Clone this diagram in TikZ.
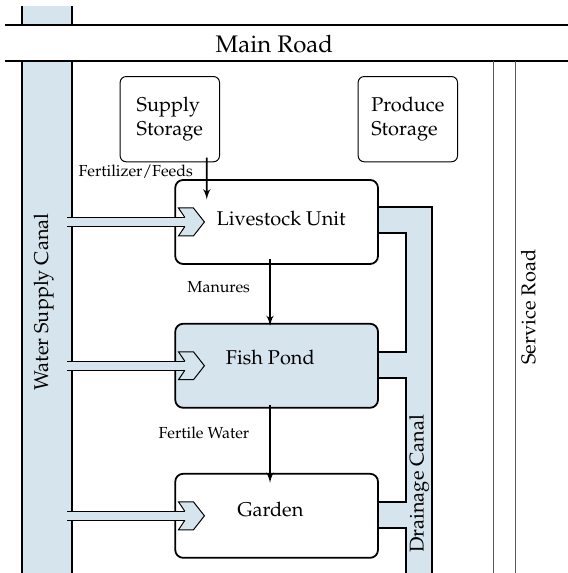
\documentclass[tikz,border=0pt]{standalone}
\usepackage[T1]{fontenc}
\usepackage{mathpazo}
\usepackage{tikz}
\usetikzlibrary{shapes,arrows,positioning,calc}
\definecolor{canalblue}{RGB}{213,228,237}
\tikzstyle{line} = [draw, -latex', line width=0.8pt]
\tikzstyle{water} = [draw, line width=0.5pt, double=canalblue, double distance=4pt, shorten >=9.8pt]
\tikzstyle{unit} = [draw, rectangle, rounded corners=4pt, line width=0.9pt, text centered, minimum width=3.57cm, minimum height=1.48cm]
\tikzstyle{store} = [draw, rectangle, rounded corners=3pt, line width=0.5pt, align=left, minimum width=1.75cm, minimum height=1.5cm]
\tikzstyle{edge} = [draw, line width=0.9pt]
\tikzstyle{lbl} = [font=\footnotesize]
\tikzset{chevron/.pic={
    \fill [canalblue] (-9.8pt,2.25pt) -- (-13pt,7pt) -- (-5.5pt,7pt) -- (0,0) -- (-5.5pt,-7pt) -- (-13pt,-7pt) -- (-9.8pt,-2.25pt) -- cycle;
    \draw [line width=0.5pt, line join=miter] (-9.8pt,2.25pt) -- (-13pt,7pt) -- (-5.5pt,7pt) -- (0,0) -- (-5.5pt,-7pt) -- (-13pt,-7pt) -- (-9.8pt,-2.25pt);
}}

\begin{document}
\begin{tikzpicture}
    \useasboundingbox (0,0) rectangle (10,10.088);
    % water supply canal
    \fill [canalblue] (0.387,0) rectangle (1.268,9.01);
    \fill [canalblue] (0.387,9.65) rectangle (1.268,9.98);
    \path [edge] (0.387,0) -- (0.387,9.01) (1.268,0) -- (1.268,9.01);
    \path [edge] (0.387,9.65) -- (0.387,9.98) (1.268,9.65) -- (1.268,9.98);
    \coordinate (wsc) at (1.18,0);
    \node [rotate=90] (wsclbl) at (0.77,4.77) {Water Supply Canal};

    % roads
    \path [edge] (0.09,9.65) -- (10,9.65) (0.09,9.01) -- (10,9.01);
    \node [font=\large] (mainroad) at (4.83,9.31) {Main Road};
    \path [draw, black!65, line width=0.5pt] (8.68,0) -- (8.68,9.01) (9.08,0) -- (9.08,9.01);
    \node [rotate=90] (servroad) at (9.30,4.68) {Service Road};

    % drainage canal
    \fill [canalblue] (6.655,6.444) -- (7.606,6.444) -- (7.606,0) -- (7.148,0) -- (7.148,0.792) -- (6.655,0.792)
        -- (6.655,1.25) -- (7.148,1.25) -- (7.148,3.433) -- (6.655,3.433) -- (6.655,3.891) -- (7.148,3.891)
        -- (7.148,5.986) -- (6.655,5.986) -- cycle;
    \path [edge] (6.655,6.444) -- (7.606,6.444) -- (7.606,0);
    \path [edge] (6.655,5.986) -- (7.148,5.986) -- (7.148,3.891) -- (6.655,3.891);
    \path [edge] (6.655,3.433) -- (7.148,3.433) -- (7.148,1.25) -- (6.655,1.25);
    \path [edge] (6.655,0.792) -- (7.148,0.792) -- (7.148,0);
    \node [rotate=90] (drainlbl) at (7.38,1.57) {Drainage Canal};

    % units
    \node [store] (supply) at (2.99,7.99) {Supply\\Storage};
    \node [store] (produce) at (7.18,7.99) {Produce\\Storage};
    \node [unit, fill=white] (liv) at (4.87,6.18) {\raisebox{1.5pt}[\height][\depth]{\hspace*{0.16cm}Livestock Unit}};
    \node [unit, fill=canalblue, below=1.02cm of liv] (fish) {\raisebox{4pt}[\height][\depth]{\hspace*{-0.22cm}Fish Pond}};
    \node [unit, fill=white, below=1.13cm of fish] (garden) {\raisebox{3pt}[\height][\depth]{\hspace*{-0.22cm}Garden}};

    % flows
    \node [lbl] (feedlbl) at (2.39,7.06) {Fertilizer/Feeds};
    \node [lbl] (manlbl) at (3.85,5.04) {Manures};
    \node [lbl] (fwlbl) at (3.59,2.46) {Fertile Water};
    \path [line, shorten <=-0.08cm, shorten >=-0.36cm] ([xshift=0.65cm]supply.south) -- ([xshift=-1.23cm]liv.north);
    \path [line, shorten <=-0.106cm, shorten >=-0.054cm] ([xshift=-0.116cm]liv.south) -- ([xshift=-0.116cm]fish.north);
    \path [line, shorten <=-0.068cm, shorten >=-0.175cm] ([xshift=-0.116cm]fish.south) -- ([xshift=-0.116cm]garden.north);

    \path [water] (wsc |- liv.west) -- ([xshift=0.53cm]liv.west);
    \pic at ([xshift=0.53cm]liv.west) {chevron};
    \path [water] (wsc |- fish.west) -- ([xshift=0.53cm]fish.west);
    \pic at ([xshift=0.53cm]fish.west) {chevron};
    \path [water] (wsc |- garden.west) -- ([xshift=0.53cm]garden.west);
    \pic at ([xshift=0.53cm]garden.west) {chevron};
\end{tikzpicture}
\end{document}
